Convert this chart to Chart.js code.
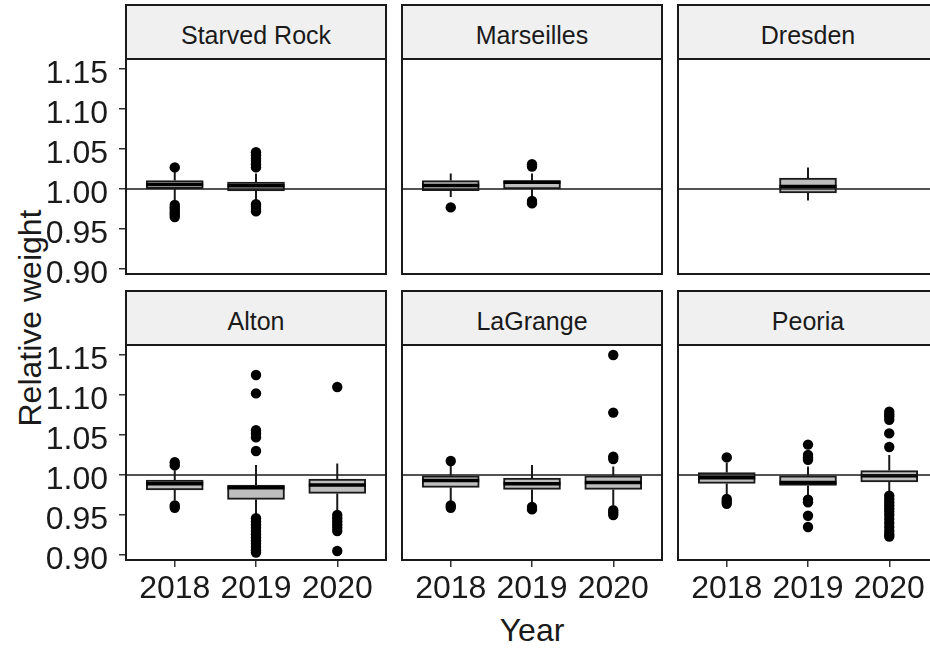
<!doctype html>
<html lang="en">
  <head>
    <meta charset="utf-8">
    <title>Relative weight by site and year</title>
    <style>
      html, body { margin: 0; padding: 0; background: #fff; overflow: hidden; width: 930px; height: 648px; }
      .wrap { position: relative; width: 980px; height: 648px; font-family: 'Liberation Sans', Arial, sans-serif; color: #1a1a1a; }
      .wrap canvas { position: absolute; }
      .strip { position: absolute; box-sizing: border-box; width: 262px; height: 56px; border: 2px solid #1a1a1a;
               background: #f0f0f0; font-size: 25px; display: flex; align-items: center; justify-content: center; padding-top: 6px; }
      .ytitle { position: absolute; width: 400px; text-align: center; font-size: 32px; line-height: 36px; transform: rotate(-90deg); }
      .xtitle { position: absolute; width: 400px; text-align: center; font-size: 32px; line-height: 36px; }
    </style>
  </head>
  <body>
    <div class="wrap" id="wrap">
      <div class="ytitle" style="left:-170px; top:300px;">Relative weight</div>
      <div class="xtitle" style="left:332px; top:612px;">Year</div>
    </div>
    <script src="https://cdn.jsdelivr.net/npm/chart.js"></script>
    <script>
      const sites = ['Starved Rock', 'Marseilles', 'Dresden', 'Alton', 'LaGrange', 'Peoria'];
      const years = [2018, 2019, 2020];
      const yTicks = [0.90, 0.95, 1.00, 1.05, 1.10, 1.15];
      const refLine = 1.00;

      // year, lower whisker, q1, median, q3, upper whisker
      const starvedRockStats = [
        [2018, 0.984, 1.0005, 1.0055, 1.0105, 1.0215],
        [2019, 0.986, 0.9975, 1.004, 1.0085, 1.0195]
      ];
      const marseillesStats = [
        [2018, 0.990, 0.998, 1.0045, 1.0105, 1.0195],
        [2019, 0.990, 1.000, 1.0085, 1.0105, 1.0195]
      ];
      const dresdenStats = [
        [2019, 0.9855, 0.995, 1.003, 1.0135, 1.027]
      ];
      const altonStats = [
        [2018, 0.968, 0.9815, 0.989, 0.9935, 1.006],
        [2019, 0.950, 0.9695, 0.984, 0.9875, 1.0125],
        [2020, 0.956, 0.977, 0.9875, 0.995, 1.0145]
      ];
      const laGrangeStats = [
        [2018, 0.9665, 0.9845, 0.993, 0.999, 1.0125],
        [2019, 0.9645, 0.982, 0.989, 0.996, 1.0125],
        [2020, 0.9625, 0.982, 0.9905, 0.999, 1.0105]
      ];
      const peoriaStats = [
        [2018, 0.973, 0.9895, 0.9965, 1.003, 1.0155],
        [2019, 0.975, 0.987, 0.9905, 0.999, 1.0105],
        [2020, 0.979, 0.9915, 0.999, 1.0055, 1.025]
      ];

      // year, outlying values
      const starvedRockOutliers = [
        [2018, [1.027, 0.980, 0.977, 0.974, 0.971, 0.968, 0.965]],
        [2019, [1.046, 1.042, 1.038, 1.035, 1.031, 1.027, 0.981, 0.978, 0.975, 0.972]]
      ];
      const marseillesOutliers = [
        [2018, [0.977]],
        [2019, [1.031, 1.028, 0.985, 0.982]]
      ];
      const dresdenOutliers = [];
      const altonOutliers = [
        [2018, [1.016, 1.012, 0.962, 0.959]],
        [2019, [1.125, 1.102, 1.056, 1.052, 1.047, 1.030, 0.946, 0.942, 0.938, 0.934, 0.930, 0.926,
                0.922, 0.918, 0.914, 0.910, 0.906, 0.903]],
        [2020, [1.110, 0.950, 0.946, 0.942, 0.938, 0.934, 0.930, 0.905]]
      ];
      const laGrangeOutliers = [
        [2018, [1.0175, 0.962, 0.959]],
        [2019, [0.960, 0.957]],
        [2020, [1.150, 1.078, 1.023, 1.020, 0.956, 0.953, 0.950]]
      ];
      const peoriaOutliers = [
        [2018, [1.022, 0.970, 0.967, 0.964]],
        [2019, [1.038, 1.025, 1.022, 1.019, 0.969, 0.966, 0.949, 0.935]],
        [2020, [1.079, 1.076, 1.073, 1.069, 1.052, 1.035, 0.974, 0.970, 0.966, 0.962, 0.958, 0.954,
                0.950, 0.945, 0.940, 0.935, 0.930, 0.926, 0.923]]
      ];

      const siteStats = [starvedRockStats, marseillesStats, dresdenStats, altonStats, laGrangeStats, peoriaStats];
      const siteOutliers = [starvedRockOutliers, marseillesOutliers, dresdenOutliers, altonOutliers, laGrangeOutliers, peoriaOutliers];

      // layout
      const colLeft = [126, 402, 678];
      const rowTop = [59, 345];
      const panelW = 260, panelH = 215, pad = 16;
      const yAxisW = 126, xAxisH = 52;
      const xMin = 2017.4, xMax = 2020.6;
      const yMin = 0.89375, yMax = 1.1625;
      const boxHalf = 0.35;
      const ink = '#1a1a1a';
      const tickFont = {family: "'Liberation Sans', Arial, sans-serif", size: 32};

      const panelBorder = {
        id: 'panelBorder',
        afterDraw(chart) {
          const {ctx, chartArea: a} = chart;
          ctx.save();
          ctx.strokeStyle = ink;
          ctx.lineWidth = 2;
          ctx.strokeRect(a.left, a.top, a.right - a.left, a.bottom - a.top);
          ctx.restore();
        }
      };

      function buildDatasets(stats, outliers) {
        const whiskers = [], medians = [], points = [];
        stats.forEach(([yr, lo, q1, med, q3, hi]) => {
          whiskers.push({x: yr, y: lo}, {x: yr, y: q1}, {x: yr, y: null},
                        {x: yr, y: q3}, {x: yr, y: hi}, {x: yr, y: null});
          medians.push({x: yr - boxHalf, y: med}, {x: yr + boxHalf, y: med}, {x: yr, y: null});
        });
        outliers.forEach(([yr, vals]) => vals.forEach(v => points.push({x: yr, y: v})));
        return [
          { // reference line
            data: [{x: xMin, y: refLine}, {x: xMax, y: refLine}],
            showLine: true, borderColor: ink, borderWidth: 1.6, pointRadius: 0, order: 0
          },
          {
            data: points, backgroundColor: '#000', borderColor: '#000', pointRadius: 5.2, borderWidth: 0, order: 1
          },
          {
            data: medians, showLine: true, borderColor: '#000', borderWidth: 3.5, pointRadius: 0,
            borderCapStyle: 'butt', order: 2
          },
          {
            type: 'bar',
            data: stats.map(s => ({x: s[0], y: [s[2], s[4]]})),
            backgroundColor: '#bebebe', borderColor: ink, borderWidth: 2, borderSkipped: false,
            barThickness: 57, order: 3
          },
          {
            data: whiskers, showLine: true, borderColor: ink, borderWidth: 2, pointRadius: 0,
            borderCapStyle: 'butt', order: 4
          }
        ];
      }

      const wrap = document.getElementById('wrap');

      sites.forEach((site, i) => {
        const col = i % 3, row = Math.floor(i / 3);
        const showY = col === 0, showX = row === 1;
        const left = showY ? 0 : colLeft[col] - pad;
        const width = showY ? yAxisW + panelW + pad : panelW + 2 * pad;
        const top = rowTop[row] - pad;
        const height = showX ? pad + panelH + xAxisH : panelH + 2 * pad;

        const strip = document.createElement('div');
        strip.className = 'strip';
        strip.style.left = (colLeft[col] - 1) + 'px';
        strip.style.top = (rowTop[row] - 55) + 'px';
        strip.textContent = site;
        wrap.appendChild(strip);

        const canvas = document.createElement('canvas');
        canvas.width = width;
        canvas.height = height;
        canvas.style.left = left + 'px';
        canvas.style.top = top + 'px';
        canvas.style.width = width + 'px';
        canvas.style.height = height + 'px';
        wrap.appendChild(canvas);

        new Chart(canvas, {
          type: 'scatter',
          data: {datasets: buildDatasets(siteStats[i], siteOutliers[i])},
          options: {
            responsive: false,
            animation: false,
            devicePixelRatio: 1,
            layout: {padding: {left: showY ? 0 : pad, right: pad, top: pad, bottom: showX ? 0 : pad}},
            plugins: {legend: {display: false}, tooltip: {enabled: false}},
            scales: {
              x: {
                type: 'linear', min: xMin, max: xMax, display: showX, offset: false,
                afterBuildTicks: s => { s.ticks = years.map(v => ({value: v})); },
                afterFit: s => {
                  s.height = showX ? xAxisH : 0;
                  s.paddingLeft = 0; s.paddingRight = 0;
                },
                grid: {drawOnChartArea: false, drawTicks: true, tickLength: 7, color: '#333', lineWidth: 1.5, offset: false},
                border: {display: false},
                ticks: {callback: v => String(v), font: tickFont, color: ink, padding: 3, maxRotation: 0, autoSkip: false}
              },
              y: {
                type: 'linear', min: yMin, max: yMax, display: showY,
                afterBuildTicks: s => { s.ticks = yTicks.map(v => ({value: v})); },
                afterFit: s => {
                  s.width = showY ? yAxisW : 0;
                  s.paddingTop = 0; s.paddingBottom = 0;
                },
                grid: {drawOnChartArea: false, drawTicks: true, tickLength: 7, color: '#333', lineWidth: 1.5},
                border: {display: false},
                ticks: {callback: v => v.toFixed(2), font: tickFont, color: ink, padding: 11, labelOffset: 5, autoSkip: false}
              }
            }
          },
          plugins: [panelBorder]
        });
      });
    </script>
  </body>
</html>
